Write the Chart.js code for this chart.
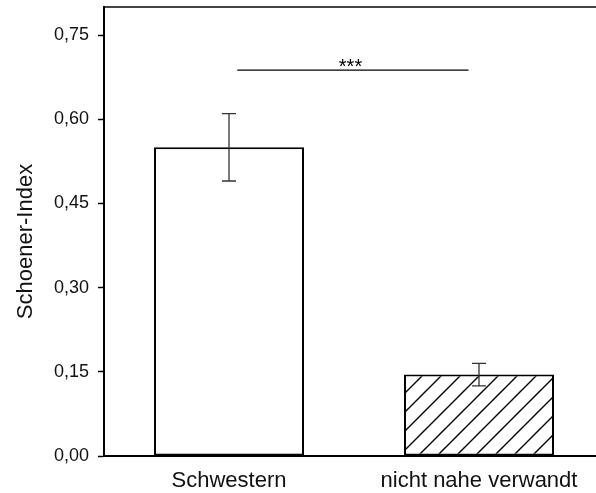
<!DOCTYPE html>
<html>
<head>
<meta charset="utf-8">
<script src="https://cdn.jsdelivr.net/npm/chart.js@4"></script>
<style>
  html, body { margin: 0; padding: 0; background: #fff; overflow: hidden; }
  #wrap { width: 596px; height: 493px; overflow: hidden; }
</style>
</head>
<body>
<div id="wrap"><canvas id="chart" width="610" height="493"></canvas></div>
<script>
// data
const categories = ['Schwestern', 'nicht nahe verwandt'];
const means = [0.55, 0.145];
const errors = [0.06, 0.02];
const yTicks = [0, 0.15, 0.30, 0.45, 0.60, 0.75];
const yMax = 0.8;
const yTitle = 'Schoener-Index';
// significance bracket: height, start/end as position between the two categories
const sigLevel = 0.6875;
const sigFrom = 0.033;
const sigTo = 0.958;
const sigLabel = '***';

const FONT = '"Liberation Sans", Arial, sans-serif';

function hatch() {
  const s = 19;
  const c = document.createElement('canvas');
  c.width = s; c.height = s;
  const g = c.getContext('2d');
  g.fillStyle = '#fff';
  g.fillRect(0, 0, s, s);
  g.strokeStyle = '#000';
  g.lineWidth = 1.4;
  g.beginPath();
  g.moveTo(-2, s + 2); g.lineTo(s + 2, -2);
  g.moveTo(-2, 2); g.lineTo(2, -2);
  g.moveTo(s - 2, s + 2); g.lineTo(s + 2, s - 2);
  g.stroke();
  return document.getElementById('chart').getContext('2d').createPattern(c, 'repeat');
}

const extras = {
  id: 'extras',
  afterDatasetsDraw(chart) {
    const ctx = chart.ctx;
    const x = chart.scales.x, y = chart.scales.y;
    ctx.save();
    // error bars
    ctx.strokeStyle = '#333';
    ctx.lineWidth = 1.3;
    means.forEach((m, i) => {
      const px = x.getPixelForValue(i);
      const top = y.getPixelForValue(m + errors[i]);
      const bot = y.getPixelForValue(m - errors[i]);
      ctx.beginPath();
      ctx.moveTo(px, top); ctx.lineTo(px, bot);
      ctx.moveTo(px - 7, top); ctx.lineTo(px + 7, top);
      ctx.moveTo(px - 7, bot); ctx.lineTo(px + 7, bot);
      ctx.stroke();
    });
    // significance line
    const x0 = x.getPixelForValue(0), x1 = x.getPixelForValue(1);
    const sy = y.getPixelForValue(sigLevel);
    ctx.strokeStyle = '#000';
    ctx.lineWidth = 1.2;
    ctx.beginPath();
    ctx.moveTo(x0 + sigFrom * (x1 - x0), sy);
    ctx.lineTo(x0 + sigTo * (x1 - x0), sy);
    ctx.stroke();
    ctx.fillStyle = '#000';
    ctx.font = '20px ' + FONT;
    ctx.textAlign = 'center';
    ctx.textBaseline = 'alphabetic';
    ctx.fillText(sigLabel, x0 + 0.486 * (x1 - x0), sy + 3);
    // y axis title
    ctx.translate(26, (y.top + y.bottom) / 2 + 10);
    ctx.rotate(-Math.PI / 2);
    ctx.fillStyle = '#111';
    ctx.font = '22px ' + FONT;
    ctx.textBaseline = 'middle';
    ctx.fillText(yTitle, 0, 0);
    ctx.restore();
  }
};

new Chart(document.getElementById('chart'), {
  type: 'bar',
  data: {
    labels: categories,
    datasets: [{
      data: means,
      backgroundColor: ['#fff', hatch()],
      borderColor: '#000',
      borderWidth: 2,
      borderSkipped: false,
      categoryPercentage: 1,
      barPercentage: 0.6
    }]
  },
  options: {
    responsive: false,
    animation: false,
    layout: { padding: { left: 0, right: 6, top: 0, bottom: 0 } },
    plugins: { legend: { display: false }, tooltip: { enabled: false } },
    scales: {
      x: {
        grid: { display: false, drawTicks: false },
        border: { display: true, color: '#000', width: 2 },
        ticks: {
          color: '#111',
          padding: 12,
          font: { family: FONT, size: 22 }
        },
        afterFit(s) { s.height = 37; s.paddingLeft = 0; s.paddingRight = 0; }
      },
      x2: {
        position: 'top',
        labels: categories,
        grid: { display: false, drawTicks: false },
        border: { display: true, color: '#444', width: 2 },
        ticks: { display: false },
        afterFit(s) { s.height = 7; s.paddingLeft = 0; s.paddingRight = 0; }
      },
      y: {
        min: 0,
        max: yMax,
        afterBuildTicks(s) { s.ticks = yTicks.map(v => ({ value: v })); },
        grid: { drawOnChartArea: false, drawTicks: true, tickLength: 6, color: '#000', tickWidth: 1.5 },
        border: { display: true, color: '#000', width: 2 },
        ticks: {
          color: '#111',
          padding: 9,
          font: { family: FONT, size: 18 },
          callback: v => v.toFixed(2).replace('.', ',')
        },
        afterFit(s) { s.width = 104; s.paddingTop = 0; s.paddingBottom = 0; }
      }
    }
  },
  plugins: [extras]
});
</script>
</body>
</html>
